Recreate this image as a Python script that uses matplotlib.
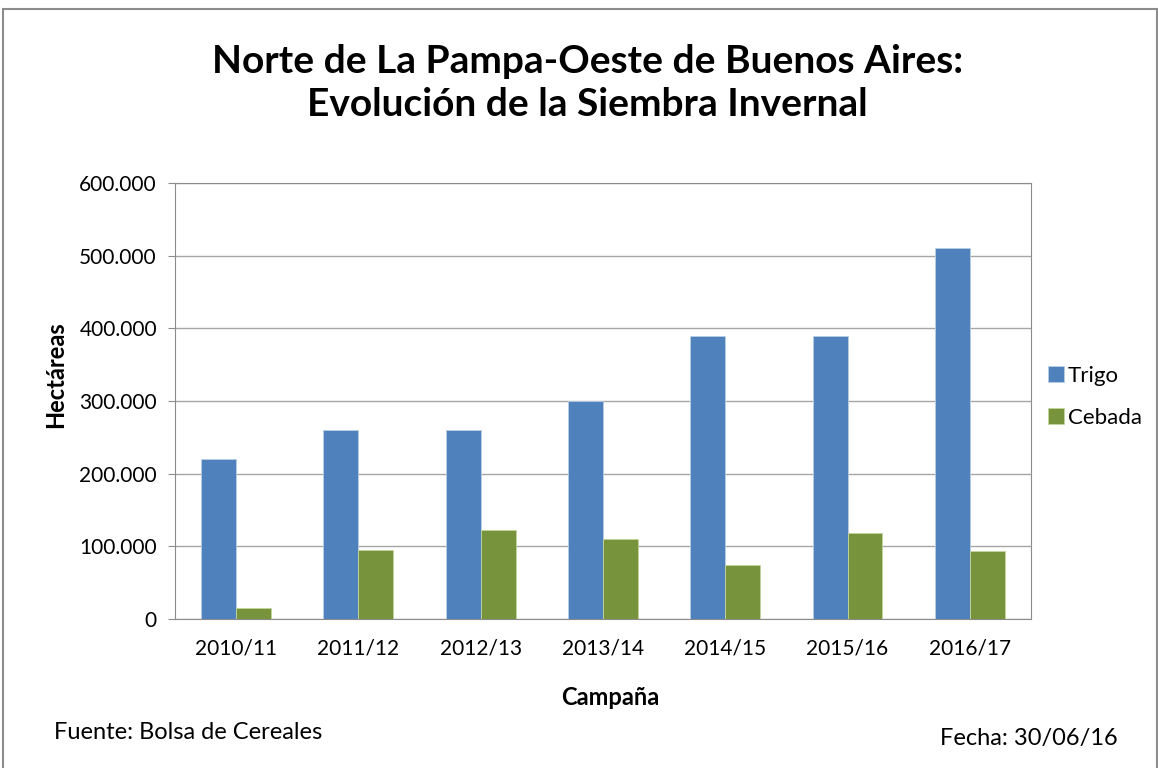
import numpy as np
import matplotlib.pyplot as plt
from matplotlib.patches import Rectangle
from matplotlib.ticker import FuncFormatter

campanas = ['2010/11', '2011/12', '2012/13', '2013/14', '2014/15', '2015/16', '2016/17']
trigo = [220000, 260000, 260000, 300000, 390000, 390000, 510000]
cebada = [15000, 95000, 122000, 110000, 74000, 119000, 94000]

plt.rcParams['font.family'] = ['Lato', 'DejaVu Sans']


def miles(v, pos):
    return '{:,.0f}'.format(v).replace(',', '.')


def main():
    fig = plt.figure(figsize=(11.58, 7.68), dpi=100)
    fig.patches.append(Rectangle((0.003, -0.01), 0.996, 0.998, transform=fig.transFigure,
                                 fill=False, edgecolor='#8c8c8c', linewidth=1.5))

    ax = fig.add_axes([0.1511, 0.194, 0.7392, 0.5677])
    x = np.arange(len(campanas))
    w = 0.2857
    ax.bar(x - w / 2, trigo, w, color='#4F81BD', edgecolor='#b9cde5', linewidth=0.6,
           label='Trigo', zorder=3)
    ax.bar(x + w / 2, cebada, w, color='#77933C', edgecolor='#c3d69b', linewidth=0.6,
           label='Cebada', zorder=3)

    ax.set_xlim(-0.5, len(campanas) - 0.5)
    ax.set_ylim(0, 600000)
    ax.set_yticks(np.arange(0, 600001, 100000))
    ax.yaxis.set_major_formatter(FuncFormatter(miles))
    ax.set_xticks(x)
    ax.set_xticklabels(campanas)
    ax.grid(axis='y', color='#a6a6a6', linewidth=1, zorder=0)
    for s in ax.spines.values():
        s.set_color('#8c8c8c')
    ax.tick_params(axis='both', labelsize=15, colors='#8c8c8c', labelcolor='black', length=5)
    ax.tick_params(axis='y', pad=8)
    ax.tick_params(axis='x', length=0, pad=14)

    ax.set_ylabel('Hectáreas', fontsize=17, fontweight='bold')
    ax.yaxis.label.set_va('center')
    ax.yaxis.set_label_coords(-0.140, 0.56)
    ax.set_xlabel('Campaña', fontsize=17, fontweight='bold')
    ax.xaxis.label.set_va('center')
    ax.xaxis.set_label_coords(0.508, -0.181)

    fig.text(0.507, 0.892, 'Norte de La Pampa-Oeste de Buenos Aires:\nEvolución de la Siembra Invernal',
             ha='center', va='center', fontsize=28, fontweight='bold', linespacing=1.3)

    ax.legend(loc='center left', bbox_to_anchor=(1.02, 0.51), frameon=False, fontsize=16,
              borderpad=0, borderaxespad=0,
              handlelength=0.7, handleheight=0.7, handletextpad=0.2, labelspacing=1.0)

    fig.text(0.047, 0.046, 'Fuente: Bolsa de Cereales', fontsize=17, va='center')
    fig.text(0.965, 0.039, 'Fecha: 30/06/16', fontsize=17, va='center', ha='right')

    fig.savefig('out.png', dpi=100)


if __name__ == '__main__':
    main()
